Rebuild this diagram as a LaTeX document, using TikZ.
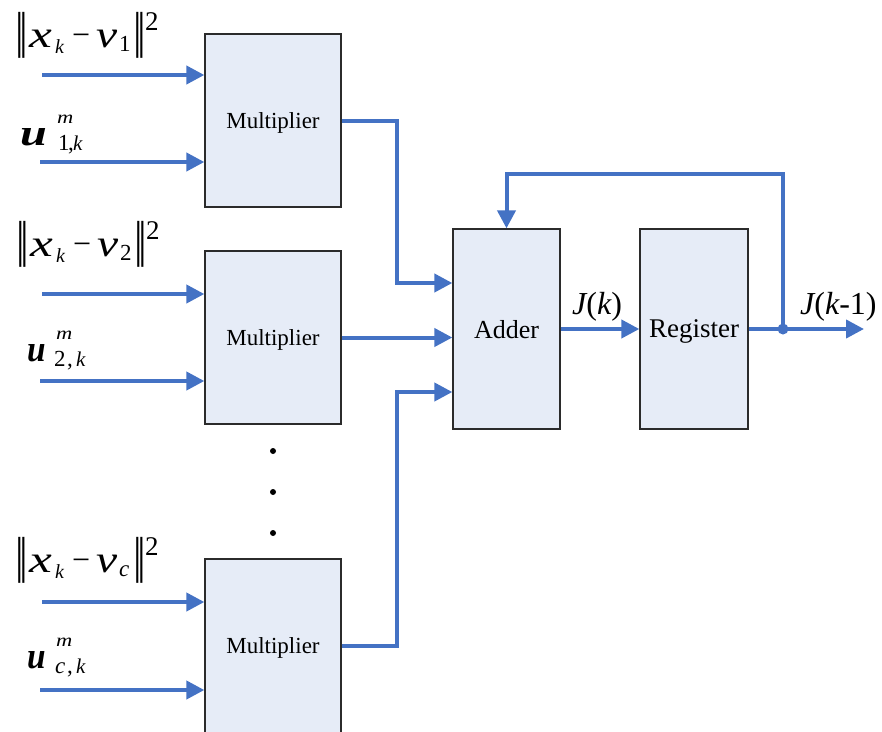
\documentclass[tikz,border=0pt]{standalone}
\usepackage{fontspec}
\setmainfont{Liberation Serif}
\newfontfamily\dv{DejaVu Sans}
\usetikzlibrary{arrows.meta}
\definecolor{lineblue}{HTML}{4472C4}
\definecolor{boxfill}{HTML}{E6ECF7}
\definecolor{boxdraw}{HTML}{2B2B2B}
\newcommand\fs[1]{\fontsize{#1}{#1}\selectfont}
\newcommand\pc[3]{\makebox[0pt][l]{\hspace*{#1pt}\raisebox{#2pt}{#3}}}
\newcommand\nbar{{\dv\fs{46}\scalebox{0.55}[1]{‖}}}
% norm label: #1 = subscript of v
\newcommand\normlbl[1]{%
\pc{0}{0}{\nbar}%
\pc{14}{0}{\fs{38}\scalebox{1.35}[1]{\itshape x}}%
\pc{40}{-6}{\fs{20}\itshape k}%
\pc{57}{2}{\fs{32}−}%
\pc{81}{0}{\fs{38}\scalebox{1.25}[1]{\itshape v}}%
\pc{104}{-4}{\fs{23}#1}%
\pc{118}{0}{\nbar}%
\pc{130}{17}{\fs{27}2}%
\hspace*{143pt}}
% u label: #1 u scale, #2 m dx, #3 sub dx, #4 comma dx, #5 k dx, #6 sub
\newcommand\ulbl[6]{%
\pc{0}{0}{\fs{37}\scalebox{#1}[1]{\bfseries\itshape u}}%
\pc{#2}{22}{\fs{18}\scalebox{1.25}[1]{\itshape m}}%
\pc{#3}{-5}{\fs{23}#6}%
\pc{#4}{-5}{\fs{23},}%
\pc{#5}{-5}{\fs{21}\itshape k}%
\hspace*{63pt}}
\tikzset{
  conn/.style={draw=lineblue, line width=4pt},
  arr/.style={conn, -{Triangle[length=18pt,width=18pt]}},
  blk/.style={draw=boxdraw, fill=boxfill, line width=1.3pt, rectangle, inner sep=0pt, text depth=0pt},
  mult/.style={blk, minimum width=136pt, minimum height=173pt, font=\fs{23}},
  big/.style={blk, minimum width=107pt, minimum height=200pt, font=\fs{26}},
  lbl/.style={inner sep=0pt, anchor=base west},
  jl/.style={inner sep=0pt, anchor=base west, font=\fs{32}},
}
\begin{document}
\begin{tikzpicture}[x=1pt,y=-1pt]
\useasboundingbox (0,0) rectangle (882,731);
% blocks
\node[mult] (m1) at (273,120.5) {Multiplier};
\node[mult] (m2) at (273,337.5) {Multiplier};
\node[mult, minimum height=190pt] (m3) at (273,654) {};
\node[font=\fs{23}, text depth=0pt, inner sep=0pt] (m3t) at (273,646) {Multiplier};
\node[big] (add) at (506.5,329) {Adder};
\node[big, minimum width=108pt, font=\fs{27}] (reg) at (694,329) {Register};
% input labels
\node[lbl] (n1) at (15,47) {\normlbl{1}};
\node[lbl] (u1) at (20,145) {\ulbl{1.3}{37}{38}{48}{53}{1}};
\node[lbl] (n2) at (16,256) {\normlbl{2}};
\node[lbl] (u2) at (27,361) {\ulbl{0.9}{29}{27}{40}{49}{2}};
\node[lbl] (n3) at (15,572) {\normlbl{\itshape c}};
\node[lbl] (u3) at (27,668) {\ulbl{0.9}{29}{28}{40}{49}{\itshape c}};
% input arrow start points
\coordinate (a1) at (42,75);
\coordinate (b1) at (40,162);
\coordinate (a2) at (42,294);
\coordinate (b2) at (40,381);
\coordinate (a3) at (42,602);
\coordinate (b3) at (40,690);
\foreach \p/\m in {a1/m1,b1/m1,a2/m2,b2/m2,a3/m3,b3/m3}
  \draw[arr] (\p) -- (\p -| \m.west);
% multiplier outputs to adder
\coordinate (j1) at (397,283);
\coordinate (j3) at (397,392);
\draw[arr] (m1.east) -| (j1) -- (j1 -| add.west);
\draw[arr] (m2.east) -- (m2.east -| add.west);
\draw[arr] (m3.east |- m3t) -| (j3) -- (j3 -| add.west);
% adder to register
\draw[arr] (add.east) -- (reg.west);
\node[jl] (jk) at (572,314) {\itshape J\upshape(\itshape k\upshape)};
% output
\coordinate (out) at (864,329);
\coordinate (dot) at (783,329);
\draw[arr] (reg.east) -- (out);
\node[jl] (jk1) at (800,314) {\itshape J\upshape(\itshape k\upshape-1)};
% feedback
\coordinate (fb) at (506.5,174);
\draw[arr] (dot) |- (fb) -- (add.north);
\fill[lineblue] (dot) circle (5.5pt);
% ellipsis dots
\fill (273,451) circle (3pt);
\fill (273,492) circle (3pt);
\fill (273,533) circle (3pt);
\end{tikzpicture}
\end{document}
